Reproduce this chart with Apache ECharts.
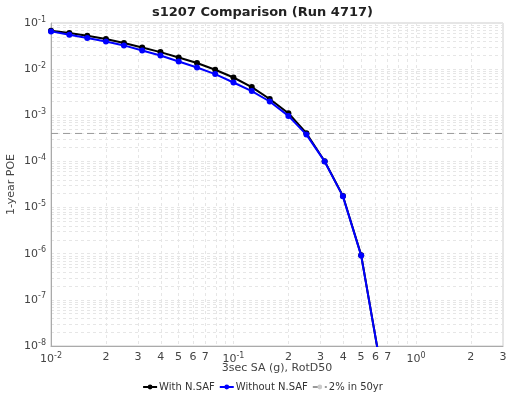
<!DOCTYPE html>
<html>
<head>
<meta charset="utf-8">
<script src="https://cdn.jsdelivr.net/npm/echarts@6/dist/echarts.min.js"></script>
<style>html,body{margin:0;padding:0;background:#fff}#c{width:525px;height:394px}</style>
</head>
<body>
<div id="c"></div>
<script>
// Data
const imls = [0.01,0.0126,0.0158,0.02,0.0251,0.0316,0.0398,0.0501,0.0631,0.0794,0.1,0.126,0.158,0.2,0.251,0.316,0.398,0.501,0.631];
const withNSAF = [0.068,0.0607,0.053,0.045,0.0368,0.0295,0.0234,0.0179,0.01355,0.00969,0.00659,0.00408,0.00225,0.00111,4.09e-4,1.01e-4,1.78e-5,9.3e-7,5e-9];
const withoutNSAF = [0.0658,0.0557,0.0472,0.0399,0.0327,0.0254,0.0198,0.01466,0.01086,0.00782,0.00513,0.00334,0.00199,0.00097,3.81e-4,1.0e-4,1.75e-5,9.1e-7,5e-9];
const poe2in50 = 4.04e-4;
const xLabelVals = [0.01,0.02,0.03,0.04,0.05,0.06,0.07,0.1,0.2,0.3,0.4,0.5,0.6,0.7,1,2,3];
const xTickVals = [0.01,0.02,0.03,0.04,0.05,0.06,0.07,0.08,0.09,0.1,0.2,0.3,0.4,0.5,0.6,0.7,0.8,0.9,1,2,3];
const yLabelVals = [1e-8,1e-7,1e-6,1e-5,1e-4,1e-3,1e-2,1e-1];
const yTickVals = [];
for (let e = -8; e <= -1; e++) {
  for (let k = 1; k <= 9; k++) {
    if (e === -1 && k > 1) break;
    yTickVals.push(parseFloat((k * Math.pow(10, e)).toPrecision(3)));
  }
}

function fmt(v) {
  const e = Math.round(Math.log10(v));
  if (Math.abs(v - Math.pow(10, e)) < 1e-9 * Math.pow(10, e) + 1e-15) {
    return '10{sup|' + e + '}';
  }
  const m = v / Math.pow(10, Math.floor(Math.log10(v) + 1e-9));
  return String(Math.round(m));
}
const rich = {
  sup: {fontSize: 8, verticalAlign: 'bottom', padding: [0, 0, 7, 0], color: '#444'}
};

const chart = echarts.init(document.getElementById('c'));
chart.setOption({
  animation: false,
  textStyle: {fontFamily: 'DejaVu Sans'},
  title: {
    text: 's1207 Comparison (Run 4717)', left: 'center', top: 1,
    textStyle: {fontSize: 13, fontWeight: 'bold', color: '#222', fontFamily: 'DejaVu Sans'}
  },
  legend: {
    bottom: 2, left: 'center', padding: 0, itemWidth: 14, itemHeight: 6, itemGap: 4,
    textStyle: {fontSize: 10, color: '#333', fontFamily: 'DejaVu Sans', padding: [0, 0, 0, -3]},
    data: ['With N.SAF', 'Without N.SAF', '2% in 50yr']
  },
  grid: {left: 51, right: 22, top: 23, bottom: 48, outerBoundsMode: 'none', containLabel: false,
         show: true, borderColor: '#ccc', borderWidth: 1},
  xAxis: {
    type: 'log', logBase: 10, min: 0.01, max: 3,
    name: '3sec SA (g), RotD50', nameLocation: 'middle', nameGap: 17, nameMoveOverlap: false,
    nameTextStyle: {fontSize: 11, color: '#444'},
    axisLine: {lineStyle: {color: '#aaa'}},
    axisTick: {show: false, customValues: xTickVals},
    axisLabel: {customValues: xLabelVals, formatter: fmt, rich: rich, fontSize: 11, color: '#444', margin: 6},
    splitLine: {show: true, lineStyle: {color: '#e6e6e6', type: [3, 3]}}
  },
  yAxis: {
    type: 'log', logBase: 10, min: 1e-8, max: 0.1,
    name: '1-year POE', nameLocation: 'middle', nameGap: 34, nameMoveOverlap: false,
    nameTextStyle: {fontSize: 11, color: '#444'},
    axisLine: {show: true, lineStyle: {color: '#aaa'}},
    axisTick: {show: false, customValues: yTickVals},
    axisLabel: {customValues: yLabelVals, formatter: fmt, rich: rich, fontSize: 11, color: '#444', margin: 5},
    splitLine: {show: true, lineStyle: {color: '#e6e6e6', type: [3, 3]}}
  },
  series: [
    {
      name: 'With N.SAF', type: 'line', clip: true,
      data: imls.map((x, i) => [x, withNSAF[i]]),
      symbol: 'circle', symbolSize: 6,
      lineStyle: {color: '#000', width: 2}, itemStyle: {color: '#000'}, z: 2
    },
    {
      name: 'Without N.SAF', type: 'line', clip: true,
      data: imls.map((x, i) => [x, withoutNSAF[i]]),
      symbol: 'circle', symbolSize: 6,
      lineStyle: {color: '#0000ff', width: 2}, itemStyle: {color: '#0000ff'}, z: 3
    },
    {
      name: '2% in 50yr', type: 'line', clip: true,
      data: [[0.01, poe2in50], [3, poe2in50]],
      symbol: 'none',
      lineStyle: {color: '#999', width: 1, type: [7, 5]}, itemStyle: {color: '#ccc'}, z: 1
    }
  ]
});
</script>
</body>
</html>
